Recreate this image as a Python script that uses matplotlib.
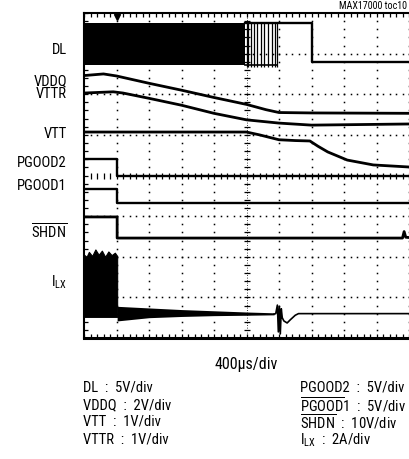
import numpy as np
import matplotlib
matplotlib.use("Agg")
import matplotlib.pyplot as plt
from matplotlib import font_manager

# pick a narrow font if one is there
names = set(f.name for f in font_manager.fontManager.ttflist)
font = "Liberation Sans"
for cand in ["Liberation Sans Narrow", "Roboto Condensed", "DejaVu Sans Condensed"]:
    if cand in names:
        font = cand
        break
plt.rcParams["font.family"] = font
plt.rcParams["mathtext.fontset"] = "custom"
plt.rcParams["mathtext.rm"] = font
plt.rcParams["mathtext.it"] = font

# ---- data (time in divisions, level in divisions) ----
# DL: switching burst, then sparse pulses, then high, then low
dl_burst_t = [0.0, 4.95]
dl_high = 7.75
dl_low = 6.72
dl_pulse_x = [5.0, 5.06, 5.13, 5.22, 5.33, 5.44, 5.55, 5.66, 5.77, 5.87, 5.94]
dl_tail_t = [4.95, 7.0, 7.0, 10.2]
dl_tail_v = [7.75, 7.75, 6.8, 6.8]

vddq_t = [0.0, 0.6, 1.0, 2.0, 3.0, 4.0, 5.0, 5.6, 6.0, 7.0, 10.2]
vddq_v = [6.46, 6.5, 6.45, 6.27, 6.1, 5.92, 5.75, 5.62, 5.55, 5.54, 5.53]

vttr_t = [0.0, 0.9, 1.2, 2.0, 3.0, 4.0, 5.0, 6.0, 7.0, 10.2]
vttr_v = [6.03, 6.06, 6.03, 5.9, 5.73, 5.53, 5.37, 5.29, 5.24, 5.27]

vtt_t = [0.0, 5.0, 5.4, 6.0, 6.5, 6.95, 7.2, 7.5, 8.1, 8.9, 10.2]
vtt_v = [5.07, 5.07, 5.0, 4.88, 4.86, 4.85, 4.72, 4.58, 4.38, 4.26, 4.2]

pg2_t = [0.0, 1.02, 1.02, 10.2]
pg2_v = [4.4, 4.4, 4.0, 4.0]

pg1_t = [0.0, 1.02, 1.02, 10.2]
pg1_v = [3.66, 3.66, 3.32, 3.32]

shdn_t = [0.0, 1.02, 1.02, 9.8, 9.85, 9.9, 10.2]
shdn_v = [2.98, 2.98, 2.46, 2.46, 2.62, 2.48, 2.46]

# ILX: burst envelope, then decaying ripple band, then glitch
ilx_burst_t = [0.0, 0.08, 0.15, 0.25, 0.35, 0.45, 0.55, 0.65, 0.75, 0.85, 0.95, 1.02]
ilx_burst_top = [2.05, 2.0, 2.12, 2.02, 2.18, 2.05, 2.15, 2.0, 2.13, 2.04, 2.1, 2.02]
ilx_burst_bot = 0.52
ilx_band_t = [1.02, 2.0, 3.0, 4.0, 5.0, 5.85]
ilx_band_top = [0.78, 0.74, 0.7, 0.67, 0.64, 0.62]
ilx_band_bot = [0.42, 0.5, 0.53, 0.55, 0.56, 0.57]
ilx_t = [5.85, 5.9, 5.95, 5.98, 6.01, 6.04, 6.07, 6.1, 6.15, 6.25, 6.35, 6.5, 6.6, 10.2]
ilx_v = [0.59, 0.6, 0.81, 0.15, 0.78, 0.1, 0.72, 0.5, 0.42, 0.37, 0.45, 0.56, 0.6, 0.6]

labels = ["DL", "VDDQ\nVTTR", "VTT", "PGOOD2", "PGOOD1",
          r"$\overline{\mathrm{SHDN}}$", r"I$_{\mathrm{LX}}$"]
label_y = [50, 88, 134, 163, 186, 232, 282]

legend_left = ["DL  :  5V/div", "VDDQ  :  2V/div", "VTT  :  1V/div", "VTTR  :  1V/div"]
legend_right = ["PGOOD2  :  5V/div",
                r"$\overline{\mathrm{PGOOD}}$1  :  5V/div",
                r"$\overline{\mathrm{SHDN}}$  :  10V/div",
                r"I$_{\mathrm{LX}}$  :  2A/div"]
legend_y = [387, 405, 422, 440]

W, H = 409, 459
fig = plt.figure(figsize=(W / 100, H / 100), dpi=100)
ax = fig.add_axes([84 / W, (H - 338) / H, 331.5 / W, 325 / H])
ax.set_xlim(0, 10.2)
ax.set_ylim(0, 8)

# graticule
for xv in [1, 2, 3, 4, 6, 7, 8, 9, 10]:
    yy = np.arange(0.2, 8.0, 0.2)
    ax.plot(np.full_like(yy, xv), yy, ls="none", marker="s", ms=1.1, color="k", mew=0)
for yv in [1, 2, 3, 5, 6, 7]:
    xx = np.arange(0.2, 10.2, 0.2)
    ax.plot(xx, np.full_like(xx, yv), ls="none", marker="s", ms=1.1, color="k", mew=0)
yy = np.arange(0.2, 8.0, 0.2)
ax.plot(np.full_like(yy, 5), yy, ls="none", marker="_", ms=4, mew=0.9, color="k")
ax.plot([5, 5], [0, 8], color="k", lw=0.6, ls=(0, (1, 2)))
xx = np.arange(0.2, 10.2, 0.2)
ax.plot(xx, np.full_like(xx, 4), ls="none", marker="|", ms=4, mew=0.9, color="k")

lw = 1.7
# DL
ax.fill_between(dl_burst_t, dl_low, dl_high, color="k", lw=0)
ax.vlines(dl_pulse_x, dl_low - 0.05, dl_high, color="k", lw=0.9)
ax.plot([4.95, 5.94], [dl_low, dl_low], color="k", lw=1.2)
ax.plot(dl_tail_t, dl_tail_v, color="k", lw=lw)

ax.plot(vddq_t, vddq_v, color="k", lw=2.0)
ax.plot(vttr_t, vttr_v, color="k", lw=2.0)
ax.plot(vtt_t, vtt_v, color="k", lw=2.0)
ax.plot(pg2_t, pg2_v, color="k", lw=lw)
ax.plot(pg1_t, pg1_v, color="k", lw=lw)
ax.plot(shdn_t, shdn_v, color="k", lw=2.0)

ax.fill_between(ilx_burst_t, ilx_burst_bot, ilx_burst_top, color="k", lw=0.8, edgecolor="k")
ax.fill_between(ilx_band_t, ilx_band_bot, ilx_band_top, color="k", lw=0)
ax.plot(ilx_t, ilx_v, color="k", lw=1.2)

# trigger marker
ax.plot([1.0], [7.9], marker="v", ms=5, color="k")

# frame and ticks
for s in ["left", "top", "bottom", "right"]:
    ax.spines[s].set_linewidth(1.5)
ax.spines["bottom"].set_linewidth(2.2)
ax.set_xticks(np.arange(0, 10.2, 1))
ax.set_xticks(np.arange(0, 10.2, 0.2), minor=True)
ax.set_yticks(np.arange(0, 8.1, 1))
ax.set_yticks(np.arange(0, 8.1, 0.2), minor=True)
ax.tick_params(which="both", direction="in", top=True, bottom=True, left=True, right=False,
               labelbottom=False, labelleft=False, length=3, width=0.9)

# labels on the left
for lab, y in zip(labels, label_y):
    fig.text(67 / W, 1 - y / H, lab, ha="right", va="center", fontsize=10.5,
             linespacing=0.85, multialignment="right")

fig.text(246 / W, 1 - 365 / H, "400\u00b5s/div", ha="center", va="center", fontsize=11.5)
for lab, y in zip(legend_left, legend_y):
    fig.text(83 / W, 1 - y / H, lab, ha="left", va="center", fontsize=10.5)
for lab, y in zip(legend_right, legend_y):
    fig.text(300 / W, 1 - y / H, lab, ha="left", va="center", fontsize=10.5)

fig.text(407 / W, 1 - 6 / H, "MAX17000 toc10", ha="right", va="center", fontsize=7.2)

fig.savefig("out.png", dpi=100)
